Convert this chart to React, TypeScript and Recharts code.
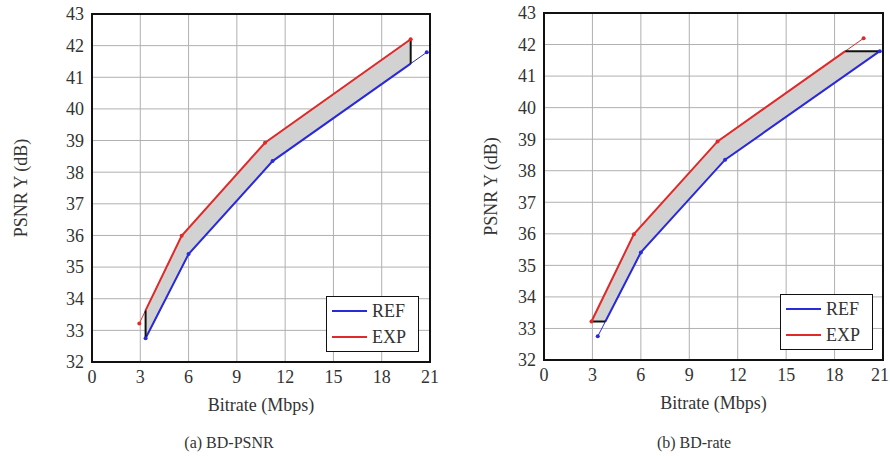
import React from "react";
import {
  ComposedChart,
  Line,
  Area,
  XAxis,
  YAxis,
  CartesianGrid,
  ReferenceArea,
  Legend,
  Label,
} from "recharts";

// (same data in both panels)
const bitrateRef = [3.33, 6.0, 11.22, 20.8];
const psnrRef = [32.75, 35.41, 38.35, 41.79];
const bitrateExp = [2.94, 5.57, 10.75, 19.8];
const psnrExp = [33.22, 35.99, 38.93, 42.2];

const xTicks = [0, 3, 6, 9, 12, 15, 18, 21];
const yTicks = [32, 33, 34, 35, 36, 37, 38, 39, 40, 41, 42, 43];

const seriesNames = ["REF", "EXP"];
const BLUE = "#2a2ad8";
const RED = "#e02a2a";
const FONT = "Liberation Serif, Times New Roman, serif";

// piecewise linear lookup (extends first / last segment)
function lookup(xs: number[], ys: number[], v: number) {
  let i = 0;
  while (i < xs.length - 2 && v > xs[i + 1]) i++;
  const t = (v - xs[i]) / (xs[i + 1] - xs[i]);
  return ys[i] + t * (ys[i + 1] - ys[i]);
}
const refY = (x: number) => lookup(bitrateRef, psnrRef, x);
const expY = (x: number) => lookup(bitrateExp, psnrExp, x);
const refX = (y: number) => lookup(psnrRef, bitrateRef, y);
const expX = (y: number) => lookup(psnrExp, bitrateExp, y);

function sortedCuts(vals: number[], a: number, b: number) {
  const out = vals.filter((v) => v >= a - 1e-9 && v <= b + 1e-9).sort((p, q) => p - q);
  return out.filter((v, i) => i === 0 || Math.abs(v - out[i - 1]) > 1e-6);
}
function clip(fn: (x: number) => number, xs: number[], a: number, b: number) {
  return sortedCuts([a, b, ...xs], a, b).map((x) => ({ x, y: fn(x) }));
}

const refAll = bitrateRef.map((x, i) => ({ x, y: psnrRef[i] }));
const expAll = bitrateExp.map((x, i) => ({ x, y: psnrExp[i] }));

// (a) BD-PSNR: overlap in bitrate
function psnrGeometry() {
  const lo = Math.max(bitrateRef[0], bitrateExp[0]);
  const hi = Math.min(bitrateRef[bitrateRef.length - 1], bitrateExp[bitrateExp.length - 1]);
  const cuts = sortedCuts([lo, hi, ...bitrateRef, ...bitrateExp], lo, hi);
  return {
    band: cuts.map((x) => ({ x, range: [refY(x), expY(x)] })),
    refClip: clip(refY, bitrateRef, lo, hi),
    expClip: clip(expY, bitrateExp, lo, hi),
    limits: [
      [{ x: lo, y: refY(lo) }, { x: lo, y: expY(lo) }],
      [{ x: hi, y: refY(hi) }, { x: hi, y: expY(hi) }],
    ],
  };
}

// (b) BD-rate: overlap in PSNR
function rateGeometry() {
  const yLo = Math.max(psnrRef[0], psnrExp[0]);
  const yHi = Math.min(psnrRef[psnrRef.length - 1], psnrExp[psnrExp.length - 1]);
  const x0 = expX(yLo);
  const x1 = refX(yHi);
  const refLo = refX(yLo);
  const expHi = expX(yHi);
  const cuts = sortedCuts([x0, x1, refLo, expHi, ...bitrateRef, ...bitrateExp], x0, x1);
  return {
    band: cuts.map((x) => ({ x, range: [Math.max(refY(x), yLo), Math.min(expY(x), yHi)] })),
    refClip: clip(refY, bitrateRef, refLo, x1),
    expClip: clip(expY, bitrateExp, x0, expHi),
    limits: [
      [{ x: x0, y: yLo }, { x: refLo, y: yLo }],
      [{ x: expHi, y: yHi }, { x: x1, y: yHi }],
    ],
  };
}

function LegendBox() {
  const colors = [BLUE, RED];
  return (
    <div
      style={{
        width: 93,
        height: 56,
        boxSizing: "border-box",
        border: "1.6px solid #111",
        background: "#fff",
        padding: "1px 0 0 5px",
        fontFamily: FONT,
        fontSize: 18,
        color: "#333",
      }}
    >
      {seriesNames.map((n, i) => (
        <div key={n} style={{ display: "flex", alignItems: "center", height: 26 }}>
          <span style={{ width: 35, height: 2, background: colors[i], marginRight: 5 }} />
          <span>{n}</span>
        </div>
      ))}
    </div>
  );
}

type PanelProps = {
  mode: "psnr" | "rate";
  left: number;
  top: number;
  right: number;
  yWidth: number;
  plotBottom: number;
  yLabelX: number;
  legendPos: { left: number; top: number };
};

const W = 445;
const H = 430;

// x tick that never runs past the chart's right edge
function XTick(props: any) {
  const { x, y, payload } = props;
  const tx = Math.min(x, W - 10);
  return (
    <text x={tx} y={y} dy="0.71em" textAnchor="middle" fontSize={18} fill="#333" fontFamily={FONT}>
      {payload.value}
    </text>
  );
}

function Panel(p: PanelProps) {
  const g = p.mode === "psnr" ? psnrGeometry() : rateGeometry();
  const plotLeft = p.yWidth;
  const plotRight = W - p.right;
  const cx = (plotLeft + plotRight) / 2;
  const cy = (p.top + p.plotBottom) / 2;
  const tick = { fontSize: 18, fill: "#333", fontFamily: FONT };

  return (
    <div style={{ position: "absolute", left: p.left, top: 0 }}>
      <ComposedChart
        width={W}
        height={H}
        data={g.band}
        margin={{ top: p.top, right: p.right, bottom: 0, left: 0 }}
      >
        <CartesianGrid stroke="#b0b0b0" strokeWidth={1} />
        <XAxis
          dataKey="x"
          type="number"
          domain={[0, 21]}
          ticks={xTicks}
          interval={0}
          axisLine={false}
          tickLine={false}
          tick={<XTick />}
          height={H - p.plotBottom}
        >
          <Label
            content={() => (
              <text x={cx} y={p.plotBottom + 49} textAnchor="middle" fontSize={18} fill="#333" fontFamily={FONT}>
                Bitrate (Mbps)
              </text>
            )}
          />
        </XAxis>
        <YAxis
          type="number"
          domain={[32, 43]}
          ticks={yTicks}
          interval={0}
          axisLine={false}
          tickLine={false}
          tick={tick}
          width={p.yWidth}
        >
          <Label
            content={() => (
              <text
                x={p.yLabelX}
                y={cy}
                transform={`rotate(-90 ${p.yLabelX} ${cy})`}
                textAnchor="middle"
                dominantBaseline="central"
                fontSize={18}
                fill="#333"
                fontFamily={FONT}
              >
                PSNR Y (dB)
              </text>
            )}
          />
        </YAxis>
        <Area
          dataKey="range"
          type="linear"
          fill="#d2d2d2"
          fillOpacity={1}
          stroke="none"
          isAnimationActive={false}
          legendType="none"
        />
        <Line data={refAll} dataKey="y" type="linear" stroke={BLUE} strokeWidth={1}
          dot={{ r: 2, fill: BLUE, stroke: BLUE, strokeWidth: 0 }} isAnimationActive={false} legendType="none" />
        <Line data={expAll} dataKey="y" type="linear" stroke={RED} strokeWidth={1}
          dot={{ r: 2, fill: RED, stroke: RED, strokeWidth: 0 }} isAnimationActive={false} legendType="none" />
        <Line data={g.refClip} dataKey="y" type="linear" stroke={BLUE} strokeWidth={2}
          dot={false} isAnimationActive={false} legendType="none" />
        <Line data={g.expClip} dataKey="y" type="linear" stroke={RED} strokeWidth={2}
          dot={false} isAnimationActive={false} legendType="none" />
        {g.limits.map((seg, i) => (
          <Line key={i} data={seg} dataKey="y" type="linear" stroke="#111" strokeWidth={2}
            dot={false} isAnimationActive={false} legendType="none" />
        ))}
        <ReferenceArea x1={0} x2={21} y1={32} y2={43} fill="none" stroke="#111" strokeWidth={2} ifOverflow="visible" />
        <Legend
          layout="vertical"
          align="center"
          verticalAlign="middle"
          content={() => <LegendBox />}
          wrapperStyle={{ left: p.legendPos.left, top: p.legendPos.top, width: 93, height: 56 }}
        />
      </ComposedChart>
    </div>
  );
}

export default function App() {
  const caption = { position: "absolute" as const, top: 434, fontFamily: FONT, fontSize: 16, color: "#333", transform: "translateX(-50%)", whiteSpace: "nowrap" as const };
  return (
    <div style={{ position: "absolute", left: 0, top: 0, width: 890, height: 456, background: "#fff" }}>
      <Panel mode="psnr" left={0} top={14} right={15} yWidth={92} plotBottom={362} yLabelX={21} legendPos={{ left: 326, top: 296 }} />
      <Panel mode="rate" left={445} top={13} right={7} yWidth={99} plotBottom={360} yLabelX={46} legendPos={{ left: 335, top: 294 }} />
      <div style={{ ...caption, left: 229 }}>(a) BD-PSNR</div>
      <div style={{ ...caption, left: 694 }}>(b) BD-rate</div>
    </div>
  );
}
